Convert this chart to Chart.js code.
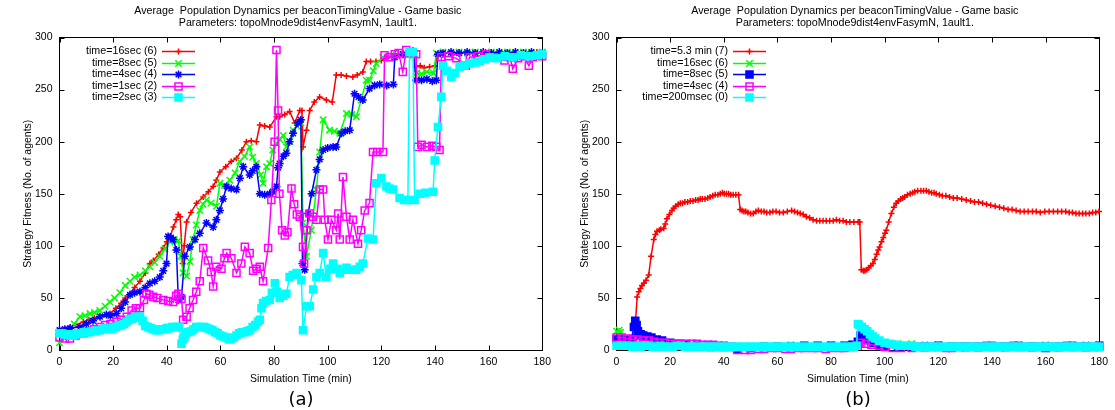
<!DOCTYPE html>
<html lang="en">
<head>
<meta charset="UTF-8" />
<title>Average Population Dynamics per beaconTimingValue</title>
<script src="https://cdn.jsdelivr.net/npm/chart.js"></script>
<style>
  body { margin: 0; background: #fff; }
  #wrap { position: relative; width: 1115px; height: 410px; overflow: hidden; }
  #wrap canvas { position: absolute; top: 0; }
  .sub { position: absolute; top: 388px; width: 60px; line-height: 20px; text-align: center;
         font: 18px "DejaVu Sans", sans-serif; color: #000; }
</style>
</head>
<body>
<div id="wrap">
  <canvas id="chartA" width="557" height="410" style="left:0"></canvas>
  <canvas id="chartB" width="557" height="410" style="left:557px"></canvas>
  <div class="sub" style="left:271px">(a)</div>
  <div class="sub" style="left:828px">(b)</div>
</div>
<script>
// ---- shared text ----
const titleLines = [
  "Average  Population Dynamics per beaconTimingValue - Game basic",
  "Parameters: topoMnode9dist4envFasymN, 1ault1.",
];
const xTitle = "Simulation Time (min)";
const yTitle = "Strategy Fitness (No. of agents)";

// ---- panel (a) ----
const aLabels = ["time=16sec (6)", "time=8sec (5)", "time=4sec (4)", "time=1sec (2)", "time=2sec (3)"];

const a16secT = [0, 2, 4, 6, 8.9, 11, 13, 15, 18.8, 21, 23, 24.5, 26.3, 28, 30, 32, 33.7, 35, 37, 38.7, 40, 41.2, 42.5, 43.5, 44.3, 45, 45.9, 46.5, 47.4, 49, 51.1, 53.6, 55.5, 57.3, 58.5, 59.8, 62, 64, 66, 68, 69.7, 71.5, 73.4, 74.7, 76.5, 78.4, 80.9, 82.1, 84, 85.8, 87.7, 89.6, 90.4, 90.8, 92.1, 93.3, 95, 97, 99.5, 101.7, 103.2, 105, 107, 109.4, 111, 113.1, 114.4, 116, 118, 120, 122, 124, 125.6, 128, 130, 132, 133, 134.5, 136, 138, 140, 141, 143, 146, 149, 152, 155, 158, 161, 164, 167, 170, 173, 176, 178, 180];
const a16secV = [19, 20, 22, 24, 27, 29, 31, 32, 35, 40, 45, 50, 54, 60, 66, 74, 83, 86, 92, 98, 104, 109, 118, 125, 130, 128, 83, 100, 123, 132, 141, 147, 152, 157, 163, 171, 176, 181, 184, 192, 200, 201, 200, 216, 215, 214, 224, 224, 226, 229, 218, 230, 230, 195, 211, 230, 238, 243, 240, 238, 264, 264, 263, 262, 264, 267, 277, 277, 277, 278, 280, 281, 282, 283, 284, 283, 272, 273, 271, 272, 273, 284, 285, 285, 286, 285, 286, 285, 286, 285, 286, 285, 286, 285, 286, 285];

const a8secT = [0, 1.5, 3.9, 5.5, 7.6, 9.5, 11.4, 13, 15, 17, 18.8, 20.5, 22.5, 24.5, 26.3, 28, 30, 32, 33.7, 35.5, 37.4, 39.3, 41.2, 42.8, 44.3, 45.2, 46.1, 47.4, 48.6, 49.8, 51, 52.3, 53.5, 54.8, 56.5, 58.5, 59.8, 61.5, 63.5, 65.5, 67.2, 69, 70.9, 72, 73.4, 75, 75.9, 77.2, 78.4, 79.5, 80.9, 82.1, 83.4, 84.6, 85.8, 87.1, 88.5, 90, 90.8, 92.1, 93.9, 95.8, 97, 98.3, 100.7, 102.5, 104.5, 107, 109, 110.7, 112.5, 114.4, 115.6, 117, 118.1, 120.6, 123, 125.5, 128, 130, 132.5, 133.2, 135, 137, 139.5, 140.5, 143, 146, 149, 152, 155, 158, 161, 164, 167, 170, 173, 176, 180];
const a8secV = [7, 12, 16, 25, 32, 33, 35, 36, 38, 42, 46, 50, 55, 62, 66, 70, 72, 76, 80, 84, 90, 97, 104, 106, 105, 90, 74, 71, 85, 106, 120, 134, 140, 144, 141, 138, 160, 158, 163, 170, 181, 186, 195, 185, 179, 168, 160, 176, 179, 192, 198, 202, 206, 195, 200, 211, 215, 218, 122, 90, 115, 154, 190, 221, 211, 210, 208, 227, 226, 224, 240, 259, 259, 268, 275, 281, 282, 283, 284, 283, 284, 266, 265, 267, 266, 285, 286, 285, 286, 285, 286, 285, 286, 285, 286, 285, 286, 285, 286];

const a4secT = [0, 2, 4, 7.6, 10, 12.5, 15.1, 17.5, 19, 21.3, 23, 24.5, 26.3, 28, 30, 32, 33.7, 35.5, 37.4, 38.7, 39.9, 40.5, 41.5, 42.4, 43.6, 44.3, 45.5, 46.7, 48.6, 50.5, 52.3, 54.8, 57.3, 58.5, 59.8, 61, 62.3, 64, 66, 67.3, 68.5, 70.9, 72, 73.4, 74.7, 76.5, 78.4, 79.5, 80.9, 81.5, 82.1, 83.5, 84.6, 85.8, 87.1, 88.9, 90, 90.6, 91.4, 92.7, 94, 95.8, 97, 98.3, 100, 102, 103.2, 105.1, 106.5, 108.2, 110, 111.5, 113.1, 115.6, 117.5, 119.4, 122, 124.5, 125, 128.1, 130, 131.8, 133, 135, 137, 139, 140.5, 141.1, 143, 146, 149, 152, 155, 158, 161, 164, 167, 170, 173, 176, 180];
const a4secV = [19, 20, 21, 22, 25, 28, 32, 34, 33, 35, 40, 46, 53, 55, 56, 60, 64, 66, 70, 76, 83, 109, 108, 106, 96, 48, 51, 90, 99, 106, 112, 122, 118, 125, 134, 145, 157, 155, 154, 165, 176, 168, 172, 176, 150, 149, 150, 152, 157, 175, 179, 186, 189, 200, 208, 218, 221, 83, 77, 131, 150, 173, 183, 192, 194, 195, 195, 208, 210, 211, 246, 243, 240, 251, 254, 255, 254, 255, 281, 284, 285, 287, 259, 259, 260, 258, 259, 284, 285, 286, 285, 286, 285, 286, 285, 286, 285, 286, 285, 286, 285];

const a1secT = [0, 2, 3.9, 6, 8.9, 11, 13, 15.1, 17, 19, 21.3, 23, 25.1, 26.9, 28.5, 30, 31.5, 32.4, 33.5, 34.9, 36.5, 38.7, 40.5, 42.4, 43.5, 44.3, 45.5, 46.1, 47.4, 48.5, 49.8, 51, 52.3, 53.6, 55.4, 56.5, 57.3, 58.5, 60.4, 61.5, 62.3, 64.1, 66, 67.8, 69.1, 70.9, 72.2, 73.5, 74.7, 75.9, 77.8, 79, 80.2, 80.9, 81.5, 82, 83, 84, 85, 86.5, 87.5, 88.5, 89.6, 90.8, 91.2, 92.1, 93.3, 94.5, 95.8, 97, 98.3, 98.9, 100.1, 101.4, 103.2, 103.9, 104.5, 105.7, 107, 108.2, 109.4, 111.3, 112.5, 113.8, 115.6, 116.9, 118.5, 120.6, 121.2, 123.1, 125, 126.5, 128, 129.3, 131, 133, 133.6, 135, 137, 139, 140.5, 141.7, 142.4, 145, 148, 151.5, 153, 156, 159, 162, 165.9, 168, 169, 171, 173, 175, 176.5, 178, 180];
const a1secV = [12, 11, 11, 14, 16, 18, 20, 22, 24, 25, 27, 29, 32, 38, 40, 40, 48, 54, 53, 51, 50, 48, 47, 46, 52, 54, 49, 29, 32, 40, 48, 56, 66, 98, 86, 75, 61, 80, 78, 88, 93, 88, 74, 83, 99, 93, 76, 78, 80, 66, 98, 144, 200, 288, 230, 150, 115, 110, 113, 155, 140, 130, 128, 99, 83, 115, 131, 128, 125, 154, 154, 125, 106, 125, 115, 131, 106, 166, 128, 106, 125, 102, 115, 134, 141, 190, 190, 190, 283, 281, 284, 285, 267, 288, 285, 284, 195, 197, 195, 196, 195, 192, 281, 282, 280, 273, 281, 282, 284, 281, 278, 281, 270, 280, 282, 273, 281, 283, 282];

const a2secT = [0, 1, 2, 3, 4, 5, 6, 7, 8, 9, 10, 11, 12, 13, 14, 15, 16, 17, 18, 19, 20, 21, 22, 23, 24, 25, 26, 27, 28, 29, 30, 31, 32, 33, 34, 35, 36, 37, 38, 39, 40, 41, 42, 43, 44, 44.6, 45.5, 46, 46.5, 47, 48, 49, 50, 51, 52, 53, 54, 55, 56, 57, 58, 59, 60, 61, 62, 63, 63.5, 64, 65, 66, 67, 68, 69, 70, 71, 72, 73, 74, 74.7, 75.3, 75.9, 77, 78.4, 79.2, 80.3, 81.2, 82.1, 83.5, 84.6, 85.8, 87, 88.4, 90.2, 90.8, 92.1, 93.3, 94.6, 95.8, 97, 98.3, 99.5, 101, 102, 103.5, 104.5, 106, 107, 109, 110.7, 112, 113.1, 115, 116.9, 118.1, 120, 121.9, 123, 124.3, 126.8, 128.5, 129.9, 130.5, 131.8, 132.4, 134.3, 136.5, 139.3, 139.9, 141.1, 142.4, 143, 144.5, 146.1, 147.5, 149.2, 151, 153, 155, 156.7, 158.5, 160.4, 163, 166, 169, 172, 175, 178, 180];
const a2secV = [16, 16, 15, 15, 14, 14, 15, 16, 16, 17, 17, 17, 18, 18, 19, 19, 20, 21, 20, 20, 21, 22, 23, 24, 25, 27, 29, 30, 31, 32, 32, 28, 23, 22, 21, 20, 19, 19, 20, 20, 21, 21, 22, 22, 22, 22, 6, 10, 12, 15, 17, 18, 20, 22, 22, 22, 22, 21, 20, 19, 17, 16, 14, 13, 12, 11, 10, 11, 12, 14, 16, 17, 17, 18, 19, 22, 24, 27, 29, 40, 45, 47, 48, 55, 64, 56, 50, 52, 54, 70, 72, 74, 67, 19, 42, 42, 58, 70, 74, 93, 70, 78, 83, 78, 74, 77, 79, 77, 77, 80, 83, 107, 106, 160, 165, 157, 155, 154, 146, 144, 144, 286, 286, 144, 150, 151, 152, 182, 214, 243, 273, 268, 262, 266, 272, 273, 275, 276, 277, 279, 281, 280, 282, 281, 283, 282, 283, 284];

// ---- panel (b) ----
const bLabels = ["time=5.3 min (7)", "time=16sec (6)", "time=8sec (5)", "time=4sec (4)", "time=200msec (0)"];

const b53minT = [0, 1, 2, 3, 4, 5, 6, 6.6, 7.1, 7.7, 8.3, 8.9, 9.5, 10.2, 11, 12, 12.9, 13.9, 14.5, 15.1, 16, 16.5, 17.6, 18.2, 18.8, 19.7, 20.7, 21.3, 22, 23, 23.8, 24.6, 25.5, 26.5, 27.5, 28.5, 29.5, 30.4, 31.2, 32, 33, 34, 34.9, 35.9, 36.8, 37.8, 38.7, 39.5, 40.2, 41, 41.8, 42.6, 43.5, 44.5, 45.5, 46.1, 46.8, 47.5, 48.2, 49, 50, 51, 52, 52.9, 54, 55, 56, 57.2, 58.3, 59.5, 60.8, 62.2, 63.7, 65.3, 66.4, 67.5, 68.5, 69.6, 70.8, 72, 73.3, 74.6, 75.8, 77, 78.2, 79.5, 80.8, 82, 83.2, 84.5, 85.7, 87, 88.5, 90.1, 90.7, 91.3, 92, 92.6, 93.3, 94, 94.8, 95.6, 96.3, 97, 97.6, 98.1, 98.8, 99.5, 100.1, 100.6, 101.5, 102.5, 103.4, 104.3, 105.1, 106, 106.7, 107.4, 108.5, 109.5, 110.4, 111.2, 112.3, 113.5, 114.5, 115.5, 116.5, 117.5, 118.4, 119.2, 120.4, 121.5, 122.8, 124.2, 125.6, 127, 128.7, 130.4, 132, 133.5, 135, 136.5, 138, 139.5, 141.2, 142.8, 144.4, 146, 147.5, 149, 150.5, 152, 153.5, 155.1, 156.5, 158, 159.7, 161.3, 162.9, 164.5, 166, 167.5, 168.8, 170, 171.3, 172.5, 173.8, 175, 176.3, 177.5, 178.7, 179.9];
const b53minV = [8, 9, 9, 10, 11, 12, 13, 14, 28, 51, 56, 59, 62, 64, 67, 72, 90, 106, 111, 114, 115, 116, 117, 121, 126, 130, 134, 136, 138, 140, 141, 141, 142, 142, 143, 143, 144, 144, 145, 145, 145, 146, 147, 148, 149, 149, 150, 151, 150, 150, 150, 149, 149, 149, 149, 135, 134, 133, 133, 132, 131, 131, 133, 134, 133, 133, 132, 132, 133, 133, 132, 132, 133, 134, 133, 132, 131, 130, 128, 127, 125, 124, 124, 124, 124, 124, 124, 125, 124, 124, 123, 123, 123, 123, 123, 77, 76, 76, 77, 79, 81, 83, 87, 92, 96, 99, 104, 108, 112, 115, 123, 131, 137, 141, 143, 145, 146, 147, 149, 150, 151, 152, 153, 153, 153, 153, 152, 151, 151, 150, 149, 148, 148, 147, 146, 146, 145, 144, 143, 142, 142, 141, 140, 139, 138, 137, 136, 135, 135, 134, 133, 133, 133, 133, 133, 132, 133, 133, 133, 133, 133, 133, 132, 132, 131, 131, 131, 131, 131, 132, 132, 133];

const b16secT = [0, 1, 1.5, 2.5, 4, 6, 8, 10, 13, 16, 20, 25, 30, 35, 40, 45, 50, 55, 60, 65, 70, 75, 80, 85, 88, 90, 92, 95, 98, 100, 105, 110, 115, 120, 125, 130, 135, 140, 145, 150, 155, 160, 165, 170, 175, 180];
const b16secV = [18, 19, 17, 10, 8, 7, 7, 6, 6, 5, 5, 4, 4, 4, 5, 4, 4, 4, 4, 5, 4, 4, 5, 5, 6, 7, 8, 8, 8, 7, 6, 6, 5, 5, 4, 4, 4, 4, 4, 5, 4, 5, 4, 5, 5, 5];

const b8secT = [0, 2, 4, 5.5, 6.5, 7, 7.5, 8, 9, 10, 11.5, 13, 15, 17, 20, 23, 26, 30, 35, 40, 45, 50, 55, 60, 65, 70, 75, 80, 85, 88, 90, 91, 92, 93, 94, 96, 98, 100, 105, 110, 115, 120, 125, 130, 135, 140, 145, 150, 155, 160, 165, 170, 175, 180];
const b8secV = [10, 10, 9, 10, 22, 28, 24, 18, 15, 14, 13, 12, 10, 9, 7, 6, 5, 4, 3, 3, 1, 2, 3, 3, 3, 4, 4, 4, 4, 5, 8, 14, 13, 12, 10, 7, 5, 4, 3, 3, 3, 4, 3, 3, 3, 3, 3, 3, 3, 2, 3, 3, 3, 4];

const b4secT = [0, 2, 4, 6, 8, 10, 12, 14, 16, 18, 20, 22, 24, 26, 28, 30, 32, 34, 36, 38, 40, 43, 45, 48, 50, 53, 55, 58, 60, 63, 65, 68, 70, 73, 75, 78, 80, 83, 85, 88, 90, 91, 93, 95, 98, 100, 103, 106, 110, 113, 115, 118, 120, 123, 125, 128, 130, 133, 135, 138, 140, 143, 145, 148, 150, 153, 155, 158, 160, 163, 165, 168, 170, 173, 175, 178, 180];
const b4secV = [12, 12, 11, 10, 10, 9, 9, 8, 7, 7, 6, 6, 6, 6, 6, 6, 5, 5, 5, 4, 4, 3, 0, 0, 0, 1, 1, 2, 2, 1, 1, 2, 2, 2, 2, 1, 2, 2, 2, 3, 4, 7, 6, 5, 4, 3, 2, 2, 2, 3, 3, 3, 3, 2, 2, 3, 3, 3, 3, 4, 4, 3, 3, 4, 4, 3, 3, 3, 3, 3, 3, 4, 4, 3, 3, 3, 3];

const b200msecT = [0, 1.5, 3, 4.5, 6, 7.5, 9, 10.5, 12, 13.5, 15, 16.5, 18, 19.5, 21, 22.5, 24, 25.5, 27, 28.5, 30, 31.5, 33, 34.5, 36, 37.5, 39, 40.5, 42, 43.5, 45, 46.5, 48, 49.5, 51, 52.5, 54, 55.5, 57, 58.5, 60, 61.5, 63, 64.5, 66, 67.5, 69, 70.5, 72, 73.5, 75, 76.5, 78, 79.5, 81, 82.5, 84, 85.5, 87, 88.5, 89.5, 90, 90.5, 91.5, 92.5, 93.5, 94.5, 95.5, 96.5, 98, 100, 102, 104, 105.5, 107, 108.5, 110, 111.5, 113, 114.5, 116, 117.5, 119, 120.5, 122, 123.5, 125, 126.5, 128, 129.5, 131, 132.5, 134, 135.5, 137, 138.5, 140, 141.5, 143, 144.5, 146, 147.5, 149, 150.5, 152, 153.5, 155, 156.5, 158, 159.5, 161, 162.5, 164, 165.5, 167, 168.5, 170, 171.5, 173, 174.5, 176, 177.5, 179, 180];
const b200msecV = [4, 4, 4, 4, 3, 4, 3, 4, 4, 3, 3, 4, 3, 3, 3, 4, 4, 3, 3, 3, 3, 3, 3, 3, 3, 3, 3, 3, 3, 3, 3, 3, 3, 3, 3, 3, 3, 3, 3, 3, 3, 3, 3, 3, 3, 3, 3, 3, 3, 3, 3, 3, 3, 3, 3, 3, 3, 3, 3, 3, 4, 25, 24, 22, 20, 18, 15, 13, 11, 9, 7, 6, 5, 4, 4, 4, 4, 3, 3, 3, 3, 3, 3, 3, 3, 3, 3, 3, 3, 3, 3, 3, 3, 3, 3, 3, 3, 3, 3, 3, 3, 3, 3, 3, 3, 3, 3, 3, 3, 3, 3, 3, 3, 3, 3, 3, 3, 3, 3, 3, 3, 3, 3, 3];

// ---- styling ----
const FONT = '"Liberation Sans", Arial, sans-serif';
Chart.defaults.font.family = FONT;
Chart.defaults.font.size = 10.5;
Chart.defaults.color = "#000";

const RED = "#ff0000", GREEN = "#00ff00", BLUE = "#0000ff", MAGENTA = "#ff00ff", CYAN = "#00ffff";

function series(label, t, v, color, style, radius, filled, idx) {
  return {
    label: label,
    data: t.map((x, i) => ({ x: x, y: v[i] })),
    borderColor: color,
    backgroundColor: color,
    borderWidth: 1.5,
    pointStyle: style,
    pointRadius: radius,
    pointBorderWidth: 1.5,
    pointBorderColor: color,
    pointBackgroundColor: filled ? color : "rgba(0,0,0,0)",
    clip: false,
    order: 10 - idx, // first series drawn first, last one on top
  };
}

// box with inward tick marks on all four sides
const frame = {
  id: "frame",
  beforeDatasetsDraw(chart) {
    const { ctx, chartArea: a, scales } = chart;
    const L = Math.floor(a.left) + 0.5, R = Math.floor(a.right) + 0.5;
    const T = Math.floor(a.top) + 0.5, B = Math.floor(a.bottom) + 0.5;
    const len = 5;
    ctx.save();
    ctx.strokeStyle = "#000";
    ctx.lineWidth = 1;
    ctx.beginPath();
    scales.x.ticks.forEach((tk) => {
      const px = Math.round(scales.x.getPixelForValue(tk.value)) + 0.5;
      ctx.moveTo(px, B); ctx.lineTo(px, B - len);
      ctx.moveTo(px, T); ctx.lineTo(px, T + len);
    });
    scales.y.ticks.forEach((tk) => {
      const py = Math.round(scales.y.getPixelForValue(tk.value)) + 0.5;
      ctx.moveTo(L, py); ctx.lineTo(L + len, py);
      ctx.moveTo(R, py); ctx.lineTo(R - len, py);
    });
    ctx.stroke();
    ctx.strokeRect(L, T, R - L, B - T);
    ctx.restore();
  },
};

// two-line heading over the plot
const heading = {
  id: "heading",
  afterDraw(chart) {
    const { ctx, chartArea: a } = chart;
    const cx = (a.left + a.right) / 2 - 3;
    ctx.save();
    ctx.fillStyle = "#000";
    ctx.font = "10.7px " + FONT;
    ctx.textAlign = "center";
    ctx.textBaseline = "middle";
    ctx.fillText(titleLines[0], cx, 11);
    ctx.fillText(titleLines[1], cx, 23.5);
    ctx.restore();
  },
};

// key inside the plot: right-aligned text, then a line sample with its marker
const key = {
  id: "key",
  afterDraw(chart, args, opts) {
    const { ctx } = chart;
    ctx.save();
    ctx.font = "10.7px " + FONT;
    ctx.textAlign = "right";
    ctx.textBaseline = "middle";
    chart.data.datasets.forEach((ds, i) => {
      const y = Math.round(opts.top + i * opts.step) + 0.5;
      ctx.fillStyle = "#000";
      ctx.fillText(ds.label, opts.right, y);
      const x0 = opts.right + 5, x1 = opts.right + 38;
      ctx.strokeStyle = ds.borderColor;
      ctx.lineWidth = 1.5;
      ctx.beginPath();
      ctx.moveTo(x0, y);
      ctx.lineTo(x1, y);
      ctx.stroke();
      ctx.fillStyle = ds.pointBackgroundColor;
      Chart.helpers.drawPoint(ctx, {
        pointStyle: ds.pointStyle, radius: ds.pointRadius, borderWidth: 1.5, rotation: 0,
      }, (x0 + x1) / 2, y);
    });
    ctx.restore();
  },
};

function makeChart(id, datasets, keyRight) {
  return new Chart(document.getElementById(id), {
    type: "line",
    data: { datasets: datasets },
    plugins: [frame, heading, key],
    options: {
      responsive: false,
      animation: false,
      events: [],
      layout: { padding: { left: 0, top: 37.5, right: 13.5, bottom: 0 } },
      plugins: {
        legend: { display: false },
        title: { display: false },
        tooltip: { enabled: false },
        key: { right: keyRight, top: 51, step: 11.6 },
      },
      scales: {
        x: {
          type: "linear",
          min: 0,
          max: 180,
          ticks: { stepSize: 20, padding: 6, maxRotation: 0 },
          grid: { display: false, drawTicks: false },
          border: { display: false },
          title: { display: true, text: xTitle, padding: { top: 0, bottom: 25 } },
          afterFit(scale) { scale.height = 60; },
        },
        y: {
          min: 0,
          max: 300,
          ticks: { stepSize: 50, padding: 7 },
          grid: { display: false, drawTicks: false },
          border: { display: false },
          title: { display: true, text: yTitle, padding: { top: 22, bottom: 0 } },
          afterFit(scale) { scale.width = 59.5; },
        },
      },
    },
  });
}

makeChart("chartA", [
  series(aLabels[0], a16secT, a16secV, RED, "cross", 3, false, 0),
  series(aLabels[1], a8secT, a8secV, GREEN, "crossRot", 4.5, false, 1),
  series(aLabels[2], a4secT, a4secV, BLUE, "star", 4, false, 2),
  series(aLabels[3], a1secT, a1secV, MAGENTA, "rect", 5, false, 3),
  series(aLabels[4], a2secT, a2secV, CYAN, "rect", 5, true, 4),
], 157);

makeChart("chartB", [
  series(bLabels[0], b53minT, b53minV, RED, "cross", 3, false, 0),
  series(bLabels[1], b16secT, b16secV, GREEN, "crossRot", 4.5, false, 1),
  series(bLabels[2], b8secT, b8secV, BLUE, "rect", 5, true, 2),
  series(bLabels[3], b4secT, b4secV, MAGENTA, "rect", 5, false, 3),
  series(bLabels[4], b200msecT, b200msecV, CYAN, "rect", 5, true, 4),
], 171);
</script>
</body>
</html>
